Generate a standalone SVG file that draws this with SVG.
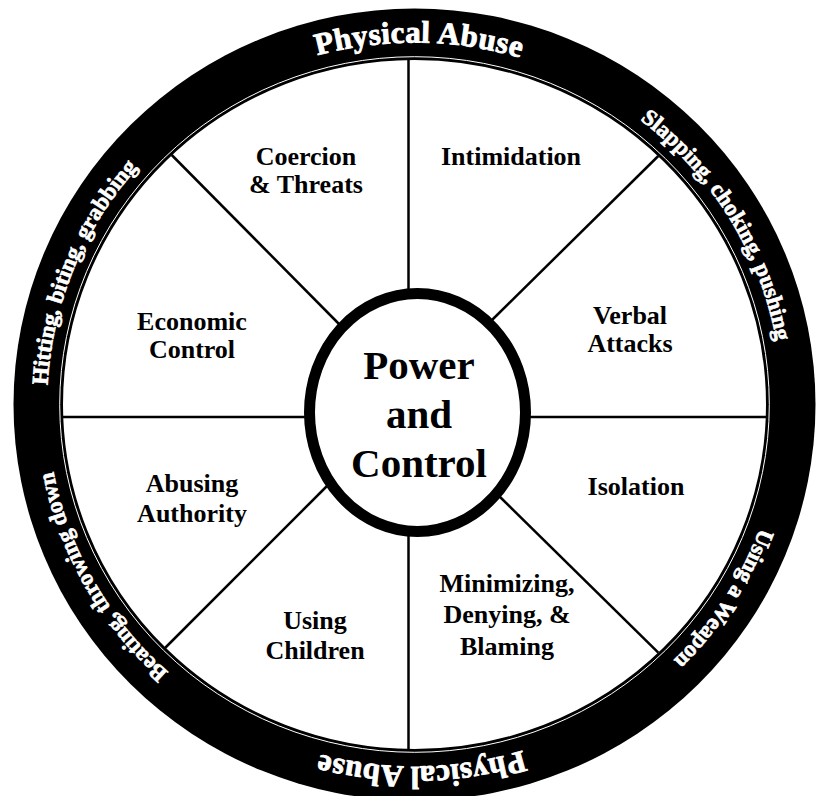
<svg xmlns="http://www.w3.org/2000/svg" width="817" height="796" viewBox="0 0 817 796">
  <style>
    .lbl { font-family: "Liberation Serif", "Times New Roman", serif; font-weight: bold; font-size: 26px; fill: #000; text-anchor: middle; }
    .big { font-family: "Liberation Serif", "Times New Roman", serif; font-weight: bold; font-size: 41px; fill: #000; text-anchor: middle; }
    .ring { font-family: "Liberation Serif", "Times New Roman", serif; font-weight: bold; font-size: 23px; fill: #fff; stroke: #fff; stroke-width: 0.7; text-anchor: middle; }
    .ringbig { font-size: 31px; stroke-width: 0.9; letter-spacing: 0.5px; }
    .spoke { stroke: #000; stroke-width: 2.5; fill: none; }
  </style>
  <defs>
    <path id="ringPath" d="M 47,404.5 A 367.5 360.5 0 1 1 782,404.5 A 367.5 360.5 0 1 1 47,404.5"/>
    <path id="ringPathBig" d="M 47,404.5 A 367.5 362 0 1 1 782,404.5 A 367.5 362 0 1 1 47,404.5"/>
  </defs>
  <rect width="817" height="796" fill="#fff"/>

  <g id="wheel">
    <ellipse cx="414.5" cy="404.5" rx="401" ry="396" fill="#000"/>
    <ellipse cx="414.5" cy="404.5" rx="354.8" ry="347.8" fill="none" stroke="#fff" stroke-width="1"/>
    <ellipse cx="414.5" cy="404.5" rx="352.5" ry="345.5" fill="#fff" stroke="#000" stroke-width="2"/>
  </g>

  <g id="ring-labels">
    <text class="ring ringbig"><textPath href="#ringPathBig" startOffset="25.2%">Physical Abuse</textPath></text>
    <text class="ring"><textPath href="#ringPath" startOffset="41.4%">Slapping, choking, pushing</textPath></text>
    <text class="ring"><textPath href="#ringPath" startOffset="59.0%">Using a Weapon</textPath></text>
    <text class="ring ringbig"><textPath href="#ringPathBig" startOffset="74.7%">Physical Abuse</textPath></text>
    <text class="ring"><textPath href="#ringPath" startOffset="91.9%">Beating, throwing down</textPath></text>
    <text class="ring"><textPath href="#ringPath" startOffset="6.1%">Hitting, biting, grabbing</textPath></text>
  </g>

  <g id="connectors">
    <line class="spoke" x1="408.5" y1="59" x2="408.5" y2="300"/>
    <line class="spoke" x1="408.5" y1="525" x2="408.5" y2="750"/>
    <line class="spoke" x1="62" y1="417" x2="320" y2="417"/>
    <line class="spoke" x1="515" y1="417" x2="767" y2="417"/>
    <line class="spoke" x1="171.7" y1="155" x2="340" y2="325"/>
    <line class="spoke" x1="658.3" y1="156" x2="492" y2="320"/>
    <line class="spoke" x1="165" y1="648" x2="327" y2="486"/>
    <line class="spoke" x1="658.3" y1="652.7" x2="498" y2="495"/>
  </g>

  <g id="center">
    <ellipse cx="417.5" cy="412.5" rx="108" ry="119" fill="#fff" stroke="#000" stroke-width="11"/>
    <text class="big" x="419" y="379">Power</text>
    <text class="big" x="419" y="428">and</text>
    <text class="big" x="419" y="477">Control</text>
  </g>

  <g id="coercion-threats">
    <text class="lbl" x="306" y="165">Coercion</text>
    <text class="lbl" x="306" y="193">&amp; Threats</text>
  </g>
  <g id="intimidation">
    <text class="lbl" x="511" y="165">Intimidation</text>
  </g>
  <g id="verbal-attacks">
    <text class="lbl" x="630" y="324">Verbal</text>
    <text class="lbl" x="630" y="352">Attacks</text>
  </g>
  <g id="isolation">
    <text class="lbl" x="636" y="495">Isolation</text>
  </g>
  <g id="minimizing">
    <text class="lbl" x="507" y="592">Minimizing,</text>
    <text class="lbl" x="507" y="623">Denying, &amp;</text>
    <text class="lbl" x="507" y="655">Blaming</text>
  </g>
  <g id="using-children">
    <text class="lbl" x="315" y="629">Using</text>
    <text class="lbl" x="315" y="659">Children</text>
  </g>
  <g id="abusing-authority">
    <text class="lbl" x="192" y="492">Abusing</text>
    <text class="lbl" x="192" y="522">Authority</text>
  </g>
  <g id="economic-control">
    <text class="lbl" x="192" y="330">Economic</text>
    <text class="lbl" x="192" y="358">Control</text>
  </g>
</svg>
